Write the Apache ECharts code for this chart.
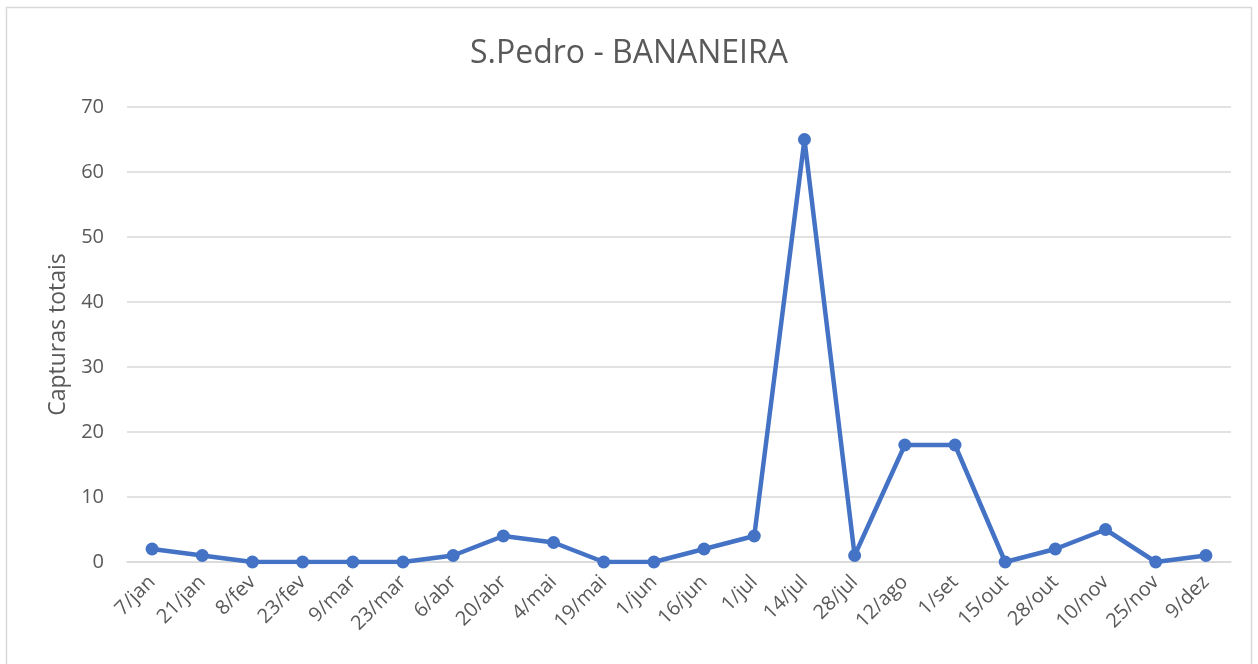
<!DOCTYPE html>
<html>
<head>
<meta charset="utf-8">
<script src="https://cdn.jsdelivr.net/npm/echarts@6/dist/echarts.min.js"></script>
<style>html,body{margin:0;padding:0;background:#fff;}#c{width:1258px;height:664px;}</style>
</head>
<body>
<div id="c"></div>
<script>
const categories = ['7/jan','21/jan','8/fev','23/fev','9/mar','23/mar','6/abr','20/abr','4/mai','19/mai','1/jun','16/jun','1/jul','14/jul','28/jul','12/ago','1/set','15/out','28/out','10/nov','25/nov','9/dez'];
const capturas = [2,1,0,0,0,0,1,4,3,0,0,2,4,65,1,18,18,0,2,5,0,1];
const titleText = 'S.Pedro - BANANEIRA';
const yName = 'Capturas totais';

const chart = echarts.init(document.getElementById('c'), null, {renderer:'canvas'});
chart.setOption({
  animation:false,
  backgroundColor:'#fff',
  title:{text:titleText,left:'center',top:33,textStyle:{fontFamily:'Open Sans, Calibri, sans-serif',fontSize:32,fontWeight:'normal',color:'#595959'}},
  graphic:[{type:'rect',shape:{x:6.5,y:7.5,width:1245,height:670},style:{fill:'none',stroke:'#d9d9d9',lineWidth:1.5},silent:true}],
  grid:{left:127,right:27,top:107,bottom:102,containLabel:false},
  xAxis:{type:'category',data:categories,boundaryGap:true,
    axisLine:{show:true,lineStyle:{color:'#d9d9d9',width:1.5}},
    axisTick:{show:false},
    axisLabel:{rotate:45,color:'#595959',fontSize:20,fontFamily:'Open Sans, Calibri, sans-serif',margin:17,interval:0}},
  yAxis:{type:'value',min:0,max:70,interval:10,name:yName,nameLocation:'middle',nameGap:56,nameRotate:90,
    nameTextStyle:{color:'#595959',fontSize:23,fontFamily:'Open Sans, Calibri, sans-serif'},
    axisLine:{show:false},axisTick:{show:false},
    axisLabel:{color:'#595959',fontSize:20,fontFamily:'Open Sans, Calibri, sans-serif',margin:23},
    splitLine:{lineStyle:{color:'#d9d9d9',width:1.5}}},
  series:[{type:'line',data:capturas,symbol:'circle',symbolSize:13,
    lineStyle:{color:'#4472C4',width:4.5},itemStyle:{color:'#4472C4'}}]
});
</script>
</body>
</html>
